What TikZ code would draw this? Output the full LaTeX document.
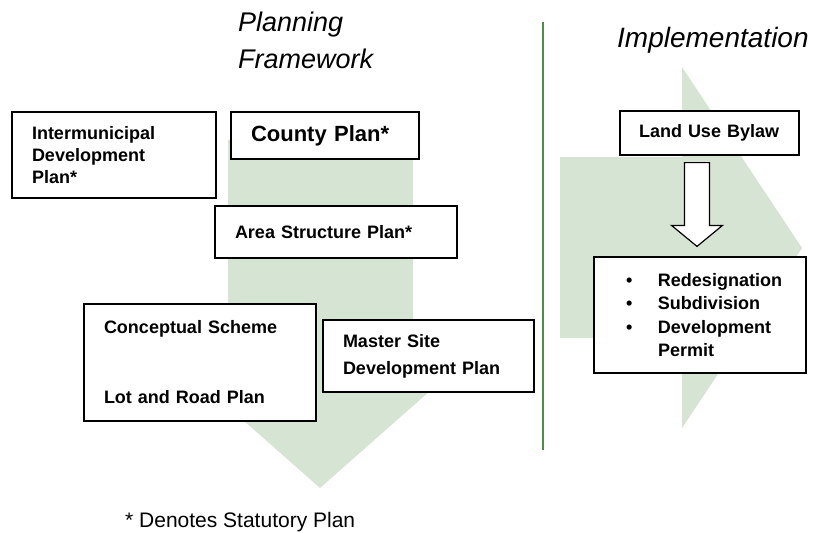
\documentclass[tikz,border=0pt]{standalone}
\usepackage{fontspec}
\setmainfont{Liberation Sans}
\usetikzlibrary{calc}

\definecolor{flowgreen}{HTML}{D6E5D3}
\definecolor{rulegreen}{HTML}{4C8C45}

\begin{document}
\begin{tikzpicture}[x=1pt, y=-1pt, >=latex,
  plan/.style={draw, line width=1.2pt, fill=white, inner xsep=20pt, inner ysep=0pt, align=left, font=\fontsize{18}{22}\selectfont\bfseries},
  head/.style={inner sep=0pt, align=left, font=\fontsize{27}{37}\selectfont\itshape}]

\useasboundingbox (0,0) rectangle (815,533);

% big arrows behind
\fill[flowgreen] (228,140) -- (413,140) -- (413,345) -- (482,345) -- (320,488) -- (158,345) -- (228,345) -- cycle;
\fill[flowgreen] (560,157) -- (682,157) -- (682,67) -- (802,248) -- (682,428) -- (682,338) -- (560,338) -- cycle;
\draw[rulegreen, line width=2pt] (543,22) -- (543,450);

\node[head, anchor=base west] (planning) at (238,68) {Planning\\Framework};
\node[head, anchor=base west, font=\fontsize{28}{34}\selectfont\itshape] (impl) at (617,47) {Implementation};

\node[plan, text width=164pt, minimum height=86pt] (idp) at (114,155) {Intermunicipal\\Development\\Plan*};
\node[plan, text width=148pt, minimum height=47pt, font=\fontsize{22}{26}\selectfont\bfseries] (county) at (325,135.5) {County Plan*};
\node[plan, text width=202pt, minimum height=52pt] (asp) at (336,232) {Area Structure Plan*};
\node[plan, text width=192pt, minimum height=117pt] (cs) at (200,362.5) {Conceptual Scheme\\[48pt]Lot and Road Plan};
\node[plan, text width=171pt, minimum height=72pt, font=\fontsize{18}{27}\selectfont\bfseries] (msdp) at (428.5,356) {Master Site\\Development Plan};

\node[plan, inner xsep=19pt, text width=141pt, minimum height=44pt] (lub) at (709.5,133) {Land Use Bylaw};
\node[plan, text width=172pt, minimum height=116pt, font=\fontsize{18}{23.5}\selectfont\bfseries] (permits) at (700,315)
  {\hspace*{12pt}\makebox[32pt][l]{\textbullet}Redesignation\\
   \hspace*{12pt}\makebox[32pt][l]{\textbullet}Subdivision\\
   \hspace*{12pt}\makebox[32pt][l]{\textbullet}Development\\
   \hspace*{44pt}Permit};

% hollow arrow between the two boxes
\coordinate (dtop) at ($(lub.south)+(-12.5,7)$);
\coordinate (dtip) at ($(permits.north)+(-3,-10)$);
\draw[line width=1.2pt, fill=white] ($(dtop)+(-12.5,0)$) -- ($(dtop)+(12.5,0)$) -- ($(dtip)+(12.5,-21)$) -- ($(dtip)+(25.5,-21)$) -- (dtip) -- ($(dtip)+(-25.5,-21)$) -- ($(dtip)+(-12.5,-21)$) -- cycle;

\node[inner sep=0pt, anchor=base west, font=\fontsize{21}{25}\selectfont] (note) at (125,527) {* Denotes Statutory Plan};
\end{tikzpicture}
\end{document}
